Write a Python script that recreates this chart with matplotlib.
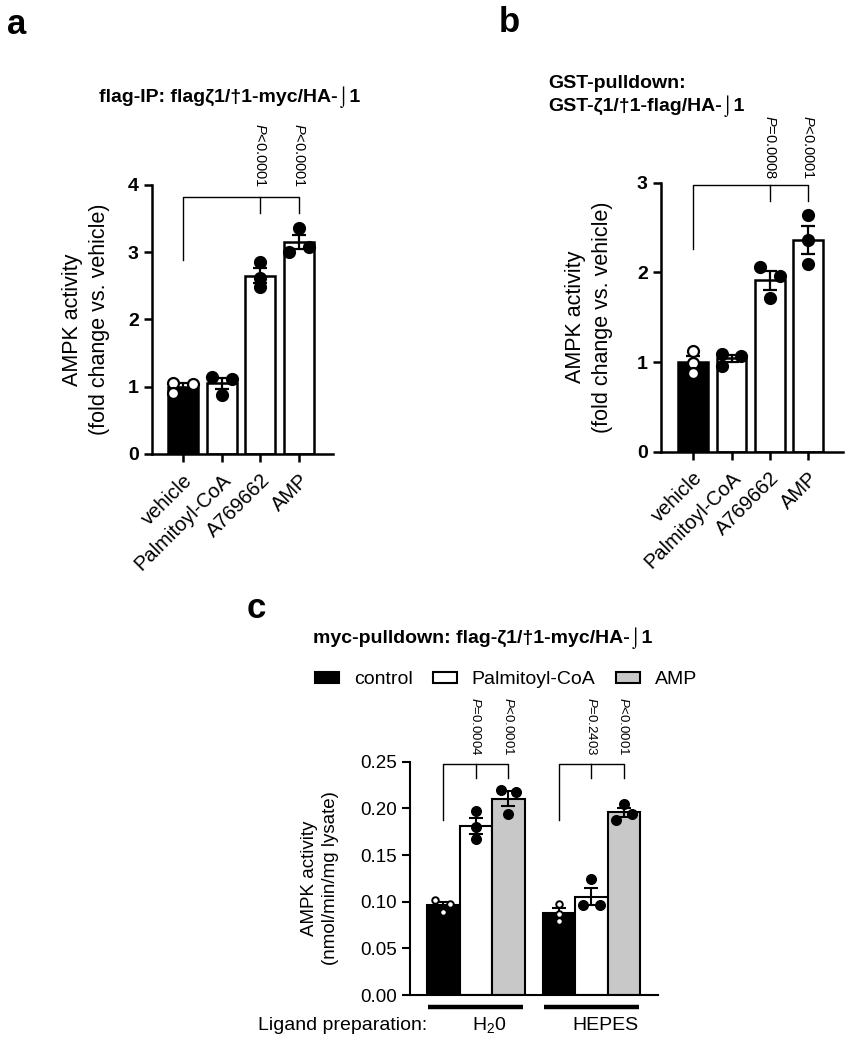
import numpy as np
import matplotlib
matplotlib.use('Agg')
import matplotlib.pyplot as plt
from matplotlib.patches import Patch

plt.rcParams['font.family'] = ['Liberation Sans', 'DejaVu Sans']
plt.rcParams['mathtext.fontset'] = 'custom'
plt.rcParams['mathtext.rm'] = 'Liberation Sans'
plt.rcParams['mathtext.it'] = 'Liberation Sans:italic'
plt.rcParams['mathtext.bf'] = 'Liberation Sans:bold'

# ---------------- data ----------------
ab_categories = ['vehicle', 'Palmitoyl-CoA', 'A769662', 'AMP']

a_vehicle = [1.06, 0.91, 1.04]
a_palmitoyl = [1.15, 0.88, 1.12]
a_a769662 = [2.86, 2.62, 2.48]
a_amp = [3.36, 3.01, 3.08]
a_pvalues = ['$P$<0.0001', '$P$<0.0001']

b_vehicle = [1.12, 0.99, 0.88]
b_palmitoyl = [1.09, 0.96, 1.07]
b_a769662 = [2.06, 1.71, 1.96]
b_amp = [2.64, 2.36, 2.09]
b_pvalues = ['$P$=0.0008', '$P$<0.0001']

c_groups = ['H$_2$0', 'HEPES']
c_series = ['control', 'Palmitoyl-CoA', 'AMP']
c_h2o_control = [0.102, 0.089, 0.097]
c_h2o_palmitoyl = [0.197, 0.180, 0.167]
c_h2o_amp = [0.220, 0.194, 0.217]
c_hepes_control = [0.098, 0.087, 0.079]
c_hepes_palmitoyl = [0.124, 0.096, 0.096]
c_hepes_amp = [0.205, 0.188, 0.194]
c_pvalues = [['$P$=0.0004', '$P$<0.0001'], ['$P$=0.2403', '$P$<0.0001']]

# ---------------- styles (point spread) ----------------
a_jitter = [[-0.26, -0.26, 0.26], [-0.26, 0, 0.26], [0, 0, 0], [0, -0.26, 0.26]]
b_jitter = [[0, 0, 0], [-0.26, -0.26, 0.26], [-0.26, 0, 0.26], [0, 0, 0]]
c_jitter = [[[-0.07, 0, 0.055], [0, 0, 0], [-0.065, 0, 0.07]],
            [[0, 0, 0], [0, -0.07, 0.07], [0, -0.07, 0.07]]]

W, H = 850, 1039
fig = plt.figure(figsize=(W / 100, H / 100), dpi=100)


def px_axes(l, r, t, b):
    return fig.add_axes([l / W, 1 - b / H, (r - l) / W, (b - t) / H])


def sem(v):
    v = np.asarray(v)
    return v.std(ddof=1) / np.sqrt(len(v))


def fold_panel(ax, groups, jitters, pvals, ymax, xlim, br_top, br_left, br_right, ptxt_y):
    x = np.arange(len(groups))
    means = [np.mean(g) for g in groups]
    sems = [sem(g) for g in groups]
    colors = ['black', 'white', 'white', 'white']
    ax.bar(x, means, width=0.78, color=colors, edgecolor='black', linewidth=1.8, zorder=2)
    ax.errorbar(x, means, yerr=sems, fmt='none', ecolor='black', elinewidth=1.6,
                capsize=5, capthick=1.6, zorder=3)
    for i, g in enumerate(groups):
        fc = 'white' if i == 0 else 'black'
        ax.scatter(x[i] + np.array(jitters[i]), g, s=62, facecolor=fc, edgecolor='black',
                   linewidths=1.6, zorder=4, clip_on=False)
    ax.set_xlim(*xlim)
    ax.set_ylim(0, ymax)
    ax.set_yticks(range(0, ymax + 1))
    ax.set_xticks(x)
    ax.set_xticklabels(ab_categories, rotation=45, ha='right', va='top',
                       rotation_mode='anchor', fontsize=14.5)
    for lab in ax.get_yticklabels():
        lab.set_fontweight('bold')
    ax.tick_params(axis='both', direction='out', length=6, width=1.8)
    ax.tick_params(axis='y', labelsize=14)
    ax.tick_params(axis='x', pad=6)
    for s in ['top', 'right']:
        ax.spines[s].set_visible(False)
    for s in ['left', 'bottom']:
        ax.spines[s].set_linewidth(1.8)
    ax.set_ylabel('AMPK activity\n(fold change vs. vehicle)', fontsize=15.5, linespacing=1.35)
    # bracket
    ax.plot([0, 0, 3, 3], [br_left, br_top, br_top, br_right], color='black', lw=1.0,
            clip_on=False, zorder=5)
    ax.plot([2, 2], [br_top, br_right], color='black', lw=1.0, clip_on=False, zorder=5)
    for xi, t in zip([2, 3], pvals):
        ax.text(xi, ptxt_y, t, rotation=270, ha='center', va='bottom', fontsize=10.5,
                clip_on=False)


# ---------- panel a ----------
axa = px_axes(152, 333, 185, 454)
fold_panel(axa, [a_vehicle, a_palmitoyl, a_a769662, a_amp], a_jitter, a_pvalues, 4,
           (-0.80, 3.88), 3.82, 2.88, 3.59, 3.96)
axa.yaxis.set_label_coords(-0.232, 0.5)

# ---------- panel b ----------
axb = px_axes(661, 843, 182.7, 451.7)
fold_panel(axb, [b_vehicle, b_palmitoyl, b_a769662, b_amp], b_jitter, b_pvalues, 3,
           (-0.84, 3.91), 2.97, 2.26, 2.80, 3.04)
axb.yaxis.set_label_coords(-0.264, 0.5)

# ---------- panel c ----------
axc = px_axes(410, 658, 761.7, 995)
c_data = [[c_h2o_control, c_h2o_palmitoyl, c_h2o_amp],
          [c_hepes_control, c_hepes_palmitoyl, c_hepes_amp]]
c_colors = ['black', 'white', '#c8c8c8']
bw = 0.281
offs = [-bw, 0, bw]
for gi, grp in enumerate(c_data):
    for si, vals in enumerate(grp):
        xc = gi + offs[si]
        m = np.mean(vals)
        axc.bar(xc, m, width=bw, color=c_colors[si], edgecolor='black', linewidth=1.5, zorder=2)
        axc.errorbar(xc, m, yerr=sem(vals), fmt='none', ecolor='black', elinewidth=1.5,
                     capsize=5, capthick=1.5, zorder=3)
        if si == 0:
            axc.scatter(xc + np.array(c_jitter[gi][si]), vals, s=22, facecolor='white',
                        edgecolor='black', linewidths=1.4, zorder=4)
        else:
            axc.scatter(xc + np.array(c_jitter[gi][si]), vals, s=48, facecolor='black',
                        edgecolor='black', linewidths=1.0, zorder=4)
    # bracket
    axc.plot([gi - bw, gi - bw, gi + bw, gi + bw], [0.188, 0.248, 0.248, 0.232],
             color='black', lw=1.0, clip_on=False, zorder=5)
    axc.plot([gi, gi], [0.248, 0.232], color='black', lw=1.0, clip_on=False, zorder=5)
    for xi, t in zip([gi, gi + bw], c_pvalues[gi]):
        axc.text(xi, 0.2565, t, rotation=270, ha='center', va='bottom', fontsize=9.5,
                 clip_on=False)
    # group underline & label
    axc.plot([gi - 0.41, gi + 0.41], [-0.05, -0.05], transform=axc.get_xaxis_transform(),
             color='black', lw=3.2, clip_on=False, solid_capstyle='butt')
    axc.text(gi + 0.12, -0.129, c_groups[gi], transform=axc.get_xaxis_transform(),
             ha='center', va='center', fontsize=14)

axc.set_xlim(-0.569, 1.575)
axc.set_ylim(0, 0.25)
axc.set_yticks(np.arange(0, 0.251, 0.05))
axc.set_yticklabels(['%.2f' % v for v in np.arange(0, 0.251, 0.05)])
axc.set_xticks([])
axc.tick_params(axis='y', direction='out', length=6, width=1.5, labelsize=13.5)
for s in ['top', 'right']:
    axc.spines[s].set_visible(False)
for s in ['left', 'bottom']:
    axc.spines[s].set_linewidth(1.5)
axc.set_ylabel('AMPK activity\n(nmol/min/mg lysate)', fontsize=13.5, linespacing=1.35)
axc.yaxis.set_label_coords(-0.286, 0.5)

handles = [Patch(facecolor=c, edgecolor='black', linewidth=1.5) for c in c_colors]
fig.legend(handles, c_series, loc='center', ncol=3, frameon=False, fontsize=14,
           handlelength=1.25, handleheight=0.55, handletextpad=0.75, columnspacing=1.05,
           bbox_to_anchor=(506 / W, 1 - 680 / H), bbox_transform=fig.transFigure)

fig.text(427 / W, 1 - 1025 / H, 'Ligand preparation:', ha='right', va='center', fontsize=14)

# ---------- titles & panel letters ----------
fig.text(230 / W, 1 - 97 / H, 'flag-IP: flagζ1/†1-myc/HA-⌡1', ha='center', va='center',
         fontsize=14, fontweight='bold')
fig.text(548 / W, 1 - 96 / H, 'GST-pulldown:\nGST-ζ1/†1-flag/HA-⌡1', ha='left', va='center',
         fontsize=14, fontweight='bold', linespacing=1.25)
fig.text(483 / W, 1 - 638 / H, 'myc-pulldown: flag-ζ1/†1-myc/HA-⌡1', ha='center', va='center',
         fontsize=14, fontweight='bold')

fig.text(7 / W, 1 - 8 / H, 'a', ha='left', va='top', fontsize=25, fontweight='bold')
fig.text(499 / W, 1 - 6 / H, 'b', ha='left', va='top', fontsize=25, fontweight='bold')
fig.text(247 / W, 1 - 592 / H, 'c', ha='left', va='top', fontsize=25, fontweight='bold')

fig.savefig('out.png', dpi=100)
